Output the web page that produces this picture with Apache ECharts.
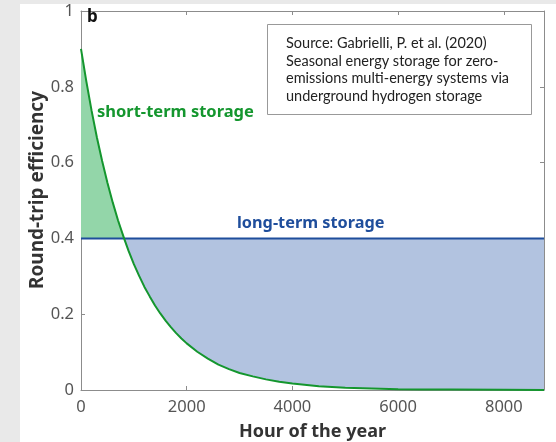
<!DOCTYPE html>
<html>
<head>
<meta charset="utf-8">
<script src="https://cdn.jsdelivr.net/npm/echarts@6/dist/echarts.min.js"></script>
<style>
html,body{margin:0;padding:0;background:#e9e9e9;}
#wrap{position:absolute;left:20px;top:4px;width:536px;height:438px;background:#fff;}
#main{position:absolute;left:0;top:0;width:556px;height:442px;}
</style>
</head>
<body>
<div id="wrap"></div>
<div id="main"></div>
<script>
// Data
const hours = [0,100,200,300,400,500,600,700,815,900,1000,1100,1200,1300,1400,1500,1600,1700,1800,1900,2000,2200,2400,2600,2800,3000,3250,3500,3750,4000,4500,5000,5500,6000,6500,7000,8000,8760];
const shortTerm = [0.900,0.815,0.737,0.667,0.604,0.547,0.495,0.448,0.400,0.367,0.332,0.301,0.272,0.247,0.223,0.202,0.183,0.166,0.150,0.136,0.123,0.101,0.083,0.067,0.055,0.045,0.036,0.028,0.022,0.017,0.010,0.006,0.004,0.002,0.0014,0.001,0.0005,0.0002];
const longTerm = 0.4;
const crossHour = 815;
const xMax = 8760;

const curveData = hours.map((h,i)=>[h, shortTerm[i]]);

function fillRender(isGreen){
  return function(params, api){
    if (params.dataIndex !== 0) return null;
    const pts = [];
    if (isGreen){
      hours.forEach((h,i)=>{ if (h <= crossHour) pts.push(api.coord([h, shortTerm[i]])); });
      pts.push(api.coord([crossHour, longTerm]));
      pts.push(api.coord([0, longTerm]));
    } else {
      pts.push(api.coord([crossHour, longTerm]));
      hours.forEach((h,i)=>{ if (h >= crossHour) pts.push(api.coord([h, shortTerm[i]])); });
      pts.push(api.coord([xMax, longTerm]));
    }
    return {type:'polygon', shape:{points:pts}, style:{fill: isGreen ? '#93d6a9' : '#b2c3e0'}};
  };
}

const chart = echarts.init(document.getElementById('main'), null, {renderer:'canvas'});
const axisCol = '#8c8c8c';
const labelFont = {color:'#555', fontSize:16.5, fontFamily:'Noto Sans'};
chart.setOption({
  backgroundColor:'transparent',
  animation:false,
  grid:{left:81, right:12, top:11, bottom:52, containLabel:false, outerBoundsMode:'none'},
  xAxis:[{
    type:'value', min:0, max:xMax, interval:2000,
    axisLine:{show:true, lineStyle:{color:axisCol, width:1}},
    axisTick:{show:true, inside:true, length:4, lineStyle:{color:axisCol}},
    axisLabel:Object.assign({margin:9, showMaxLabel:false, formatter:v=>String(v)}, labelFont),
    splitLine:{show:false},
    name:'Hour of the year', nameLocation:'middle', nameGap:33,
    nameTextStyle:{fontSize:18, fontWeight:'bold', color:'#333', fontFamily:'Noto Sans'}
  },{
    type:'value', min:0, max:xMax, interval:2000, position:'top',
    axisLine:{show:true, onZero:false, lineStyle:{color:axisCol, width:1}},
    axisTick:{show:true, inside:true, length:4, lineStyle:{color:axisCol}},
    axisLabel:{show:false}, splitLine:{show:false}
  }],
  yAxis:[{
    type:'value', min:0, max:1, interval:0.2,
    axisLine:{show:true, lineStyle:{color:axisCol, width:1}},
    axisTick:{show:true, inside:true, length:4, lineStyle:{color:axisCol}},
    axisLabel:Object.assign({margin:7, formatter:v=>String(+v.toFixed(1))}, labelFont),
    splitLine:{show:false}
  },{
    type:'value', min:0, max:1, interval:0.2, position:'right',
    axisLine:{show:true, onZero:false, lineStyle:{color:axisCol, width:1}},
    axisTick:{show:true, inside:true, length:4, lineStyle:{color:axisCol}},
    axisLabel:{show:false}, splitLine:{show:false}
  }],
  series:[
    {type:'custom', data:curveData, renderItem:fillRender(true), silent:true, z:1},
    {type:'custom', data:curveData, renderItem:fillRender(false), silent:true, z:1},
    {type:'line', data:[[0, longTerm],[xMax, longTerm]], symbol:'none', lineStyle:{color:'#1f4e9c', width:2}, z:3},
    {type:'line', data:curveData, symbol:'none', lineStyle:{color:'#14962e', width:2}, z:4}
  ],
  graphic:[
    {type:'text', x:38, y:190, rotation:Math.PI/2, z:10, style:{text:'Round-trip efficiency', fontSize:19, fontWeight:'bold', fill:'#333', fontFamily:'Noto Sans', align:'center', verticalAlign:'middle'}},
    {type:'text', left:87, top:9, z:10, style:{text:'b', fontSize:17, fontWeight:'bold', fill:'#111', fontFamily:'Noto Sans'}},
    {type:'text', left:97, top:104, z:10, style:{text:'short-term storage', fontSize:16.5, fontWeight:'bold', fill:'#14962e', fontFamily:'Noto Sans'}},
    {type:'text', left:237, top:215, z:10, style:{text:'long-term storage', fontSize:16.3, fontWeight:'bold', fill:'#1f4e9c', fontFamily:'Noto Sans'}},
    {type:'rect', z:10, shape:{x:267.5, y:24.5, width:264, height:90}, style:{fill:'#fff', stroke:'#999', lineWidth:1}},
    {type:'text', left:286, top:35, z:11, style:{text:'Source: Gabrielli, P. et al. (2020)\nSeasonal energy storage for zero-\nemissions multi-energy systems via\nunderground hydrogen storage', fontSize:14.5, lineHeight:17.5, fill:'#222', fontFamily:'Lato'}}
  ]
});
</script>
</body>
</html>
